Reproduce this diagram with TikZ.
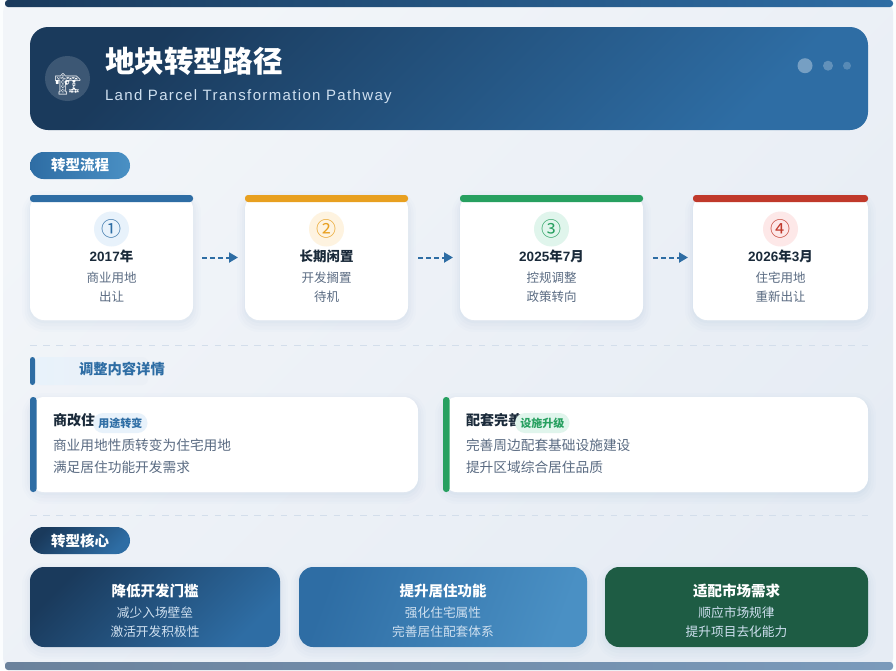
\documentclass[tikz,border=0pt]{standalone}
\usepackage{fontspec}
\setmainfont{Liberation Sans}
\newfontfamily\cjk{Noto Sans CJK SC}
\newfontfamily\emojifont{Noto Emoji}
\usetikzlibrary{arrows.meta,positioning,calc}
\newcommand{\fsize}[1]{\fontsize{#1}{#1}\selectfont}
\definecolor{navy}{HTML}{1A3A5C}
\definecolor{mainblue}{HTML}{2E6DA4}
\definecolor{lightblue}{HTML}{4A90C4}
\definecolor{paleblue}{HTML}{E8F2FB}
\definecolor{pagelight}{HTML}{F2F5F9}
\definecolor{pagetone}{HTML}{EBF0F6}
\definecolor{pagedark}{HTML}{E6ECF4}
\definecolor{orange1}{HTML}{E8A020}
\definecolor{paleorange}{HTML}{FEF3E0}
\definecolor{green1}{HTML}{27A060}
\definecolor{palegreen}{HTML}{E0F5EC}
\definecolor{red1}{HTML}{C0392B}
\definecolor{palered}{HTML}{FDE8E8}
\definecolor{darkgreen}{HTML}{1E5C44}
\definecolor{inktext}{HTML}{1A2A3A}
\definecolor{greytext}{HTML}{5A6B82}
\definecolor{paletext}{HTML}{CFE0F0}
\definecolor{dashline}{HTML}{D3DEEB}
\definecolor{barleft}{HTML}{6B829C}
\definecolor{barright}{HTML}{7A9ABB}
\tikzset{
  softshadow/.style={
    preaction={draw=mainblue,opacity=.012,line width=16pt,transform canvas={yshift=-4pt}},
    preaction={draw=mainblue,opacity=.016,line width=11pt,transform canvas={yshift=-4pt}},
    preaction={draw=mainblue,opacity=.02,line width=6pt,transform canvas={yshift=-3pt}},
    preaction={draw=mainblue,opacity=.025,line width=2pt,transform canvas={yshift=-2pt}}},
  stepcard/.style={rectangle,fill=white,rounded corners=14pt,minimum height=125pt,softshadow},
  stepbar/.style={rectangle,rounded corners=3pt,minimum height=7pt,below=0pt of #1.north},
  stepicon/.style={circle,minimum size=35pt,below=16.5pt of #1.north,font=\cjk\fsize{20}},
  steptitle/.style={below=4pt of #1,text height=11pt,text depth=2pt,text=inktext,font=\cjk\bfseries\fsize{13.5}},
  stepline/.style={text height=11pt,text depth=3pt,text=greytext,font=\cjk\fsize{12.5}},
  flowarrow/.style={draw=mainblue,line width=2pt,dash pattern=on 5pt off 3pt,
    -{Triangle[length=9pt,width=10pt]},shorten <=10pt,shorten >=7pt},
  sectionpill/.style={rectangle,rounded corners=13.5pt,minimum width=100pt,minimum height=27pt,
    anchor=north west,text=white,font=\cjk\bfseries\fsize{14.5}},
  detailcard/.style={rectangle,fill=white,rounded corners=14pt,minimum height=95pt,anchor=north west,softshadow},
  detailbar/.style={rectangle,rounded corners=3pt,minimum width=6.5pt,minimum height=95pt,anchor=north west},
  detailtitle/.style={anchor=west,text=inktext,font=\cjk\bfseries\fsize{14}},
  detailbadge/.style={rectangle,rounded corners=10pt,minimum width=54.5pt,minimum height=20pt,font=\cjk\bfseries\fsize{11}},
  detailline/.style={anchor=west,text=greytext,font=\cjk\fsize{13.7}},
  corecard/.style={rectangle,rounded corners=14pt,minimum height=80pt,softshadow},
  coretitle/.style={below=16pt of #1.north,text height=13pt,text depth=2pt,text=white,font=\cjk\bfseries\fsize{14.5}},
  coreline/.style={text height=11pt,text depth=3pt,text=paletext,font=\cjk\fsize{12.7}},
  dividerline/.style={draw=dashline,line width=1pt,dash pattern=on 6.6pt off 6.6pt},
  every node/.style={inner sep=0pt,outer sep=0pt},
  node distance=5pt
}
\begin{document}
\begin{tikzpicture}[x=1pt,y=-1pt,>=Latex]
\useasboundingbox (0,0) rectangle (896,670);
% page
\fill[white!85!paleblue] (0,0) rectangle (896,670);
\node[rectangle,anchor=north west,minimum width=890pt,minimum height=670pt,rounded corners=12pt,
  left color=pagelight,right color=pagedark,shading angle=45] (page) at (3,0) {};
\node[rectangle,anchor=north west,minimum width=888pt,minimum height=7pt,rounded corners=3pt,
  left color=navy,right color=mainblue] (topbar) at (5,0) {};
\node[rectangle,anchor=south west,minimum width=888pt,minimum height=8pt,rounded corners=3pt,
  left color=barleft,right color=barright] (bottombar) at (5,670) {};

% header
\node[rectangle,anchor=north west,minimum width=838pt,minimum height=103pt,rounded corners=18pt,
  left color=navy,right color=mainblue,shading angle=45] (header) at (30,27) {};
\node[circle,fill=white,fill opacity=.15,minimum size=45pt] (logo) at (67.5,78.5) {};
\node[text=white,font=\emojifont\fsize{21}] (crane) at (68,84) {^^^^^^01f3d7};
\node[anchor=west,text=white,font=\cjk\bfseries\fsize{29.6}] (title) at (105,61.5) {地块转型路径};
\node[anchor=west,text=paletext,font=\fsize{15}\addfontfeature{LetterSpace=9}] (subtitle) at (105,96.5) {Land Parcel Transformation Pathway};
\node[circle,fill=white,fill opacity=.35,minimum size=15pt] (dot1) at (805,65.7) {};
\node[circle,fill=white,fill opacity=.25,minimum size=10pt] (dot2) at (828,65.7) {};
\node[circle,fill=white,fill opacity=.2,minimum size=8pt] (dot3) at (847,65.7) {};

% flow
\node[sectionpill,left color=mainblue,right color=lightblue] (flowpill) at (30,152) {转型流程};
\node[stepcard,minimum width=163pt] (step1) at (111.5,257.5) {};
\node[stepcard,minimum width=163pt,right=52pt of step1] (step2) {};
\node[stepcard,minimum width=183pt,right=52pt of step2] (step3) {};
\node[stepcard,minimum width=175pt,right=50pt of step3] (step4) {};
\node[stepbar=step1,fill=mainblue,minimum width=163pt] (bar1) {};
\node[stepbar=step2,fill=orange1,minimum width=163pt] (bar2) {};
\node[stepbar=step3,fill=green1,minimum width=183pt] (bar3) {};
\node[stepbar=step4,fill=red1,minimum width=175pt] (bar4) {};

\node[stepicon=step1,fill=paleblue,text=mainblue] (icon1) {①};
\node[steptitle=icon1] (year1) {{\rmfamily 2017}年};
\node[stepline,below=7.5pt of year1] (line1a) {商业用地};
\node[stepline,below=5pt of line1a] (line1b) {出让};

\node[stepicon=step2,fill=paleorange,text=orange1] (icon2) {②};
\node[steptitle=icon2] (year2) {长期闲置};
\node[stepline,below=7.5pt of year2] (line2a) {开发搁置};
\node[stepline,below=5pt of line2a] (line2b) {待机};

\node[stepicon=step3,fill=palegreen,text=green1] (icon3) {③};
\node[steptitle=icon3] (year3) {{\rmfamily 2025}年{\rmfamily 7}月};
\node[stepline,below=7.5pt of year3] (line3a) {控规调整};
\node[stepline,below=5pt of line3a] (line3b) {政策转向};

\node[stepicon=step4,fill=palered,text=red1] (icon4) {④};
\node[steptitle=icon4] (year4) {{\rmfamily 2026}年{\rmfamily 3}月};
\node[stepline,below=7.5pt of year4] (line4a) {住宅用地};
\node[stepline,below=5pt of line4a] (line4b) {重新出让};

\draw[flowarrow,shorten <=9pt] (step1) -- (step2);
\draw[flowarrow] (step2) -- (step3);
\draw[flowarrow,shorten >=5pt] (step3) -- (step4);

% dividers
\coordinate (div1a) at (30,345);
\coordinate (div1b) at (868,345);
\coordinate (div2a) at (30,515);
\coordinate (div2b) at (868,515);
\draw[dividerline] (div1a) -- (div1b);
\draw[dividerline] (div2a) -- (div2b);

% details
\node[rectangle,anchor=north west,minimum width=113pt,minimum height=28pt,rounded corners=6pt,
  left color=paleblue,right color=pagetone] (headbg) at (35,357) {};
\node[rectangle,anchor=north west,fill=mainblue,rounded corners=2.5pt,minimum width=5pt,minimum height=28pt] (headbar) at (30,357) {};
\node[anchor=west,text=mainblue,font=\cjk\bfseries\fsize{14.3}] (headtext) at (79,369) {调整内容详情};

\node[detailcard,minimum width=388pt] (detail1) at (30,397) {};
\node[detailbar,fill=mainblue] (detailbar1) at (30,397) {};
\node[detailtitle] (dtitle1) at (53,420) {商改住};
\node[detailbadge,fill=paleblue,text=mainblue,right=-2pt of dtitle1,yshift=-3pt] (badge1) {用途转变};
\node[detailline] (dline1a) at (53,445) {商业用地性质转变为住宅用地};
\node[detailline] (dline1b) at (53,467) {满足居住功能开发需求};

\node[detailcard,minimum width=425pt] (detail2) at (443,397) {};
\node[detailbar,fill=green1] (detailbar2) at (443,397) {};
\node[detailtitle] (dtitle2) at (466,420) {配套完善};
\node[detailbadge,fill=palegreen,text=green1,right=-7pt of dtitle2,yshift=-3pt] (badge2) {设施升级};
\node[detailline] (dline2a) at (466,445) {完善周边配套基础设施建设};
\node[detailline] (dline2b) at (466,467) {提升区域综合居住品质};

% core
\node[sectionpill,left color=navy,right color=mainblue,shading angle=45] (corepill) at (30,527) {转型核心};
\node[corecard,minimum width=250pt,left color=navy,right color=mainblue,shading angle=45] (core1) at (155,607) {};
\node[corecard,minimum width=288pt,left color=mainblue,right color=lightblue,shading angle=70,right=19pt of core1] (core2) {};
\node[corecard,minimum width=263pt,fill=darkgreen,right=18pt of core2] (core3) {};

\node[coretitle=core1] (ctitle1) {降低开发门槛};
\node[coreline,below=8pt of ctitle1] (cline1a) {减少入场壁垒};
\node[coreline,below=5pt of cline1a] (cline1b) {激活开发积极性};

\node[coretitle=core2] (ctitle2) {提升居住功能};
\node[coreline,below=8pt of ctitle2] (cline2a) {强化住宅属性};
\node[coreline,below=5pt of cline2a] (cline2b) {完善居住配套体系};

\node[coretitle=core3] (ctitle3) {适配市场需求};
\node[coreline,below=8pt of ctitle3] (cline3a) {顺应市场规律};
\node[coreline,below=5pt of cline3a] (cline3b) {提升项目去化能力};
\end{tikzpicture}
\end{document}
